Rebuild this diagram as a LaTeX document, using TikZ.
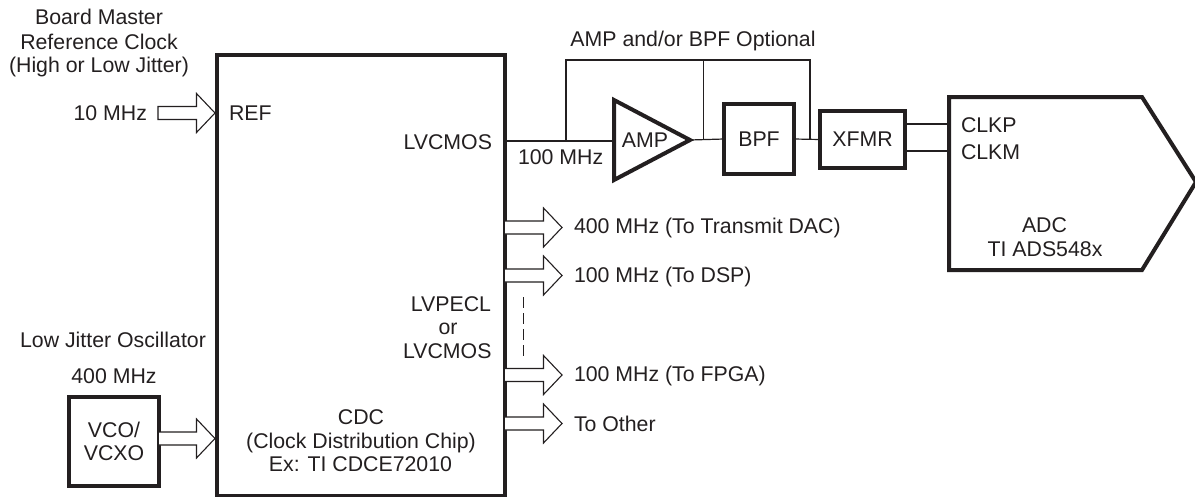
\documentclass[tikz,border=0pt]{standalone}
\usepackage{fontspec}
\setmainfont{Liberation Sans}
\usetikzlibrary{calc}
\definecolor{ink}{HTML}{231F20}
\newcommand{\lblfont}{\fontsize{21.3}{23.5}\selectfont}
\tikzset{
  thickbox/.style={draw=ink,line width=4pt,outer sep=0pt,inner sep=0pt,text=ink,font=\lblfont},
  wire/.style={draw=ink,line width=1.2pt},
  blockarrow/.style={draw=ink,line width=1.1pt,fill=white,line join=miter},
  lbl/.style={text=ink,inner sep=0pt,outer sep=0pt,font=\lblfont},
  lbll/.style={lbl,anchor=base west},
  lblr/.style={lbl,anchor=base east},
  lblc/.style={lbl,anchor=base},
}
\newcommand{\harrow}[2]{%
  \draw[blockarrow] ($(#1|-#2)+(0,-6.5)$) -- ($(#2)+(-18.5,-6.5)$) -- ($(#2)+(-18.5,-19.5)$) -- (#2)
    -- ($(#2)+(-18.5,19.5)$) -- ($(#2)+(-18.5,6.5)$) -- ($(#1|-#2)+(0,6.5)$);}
\begin{document}
\begin{tikzpicture}[x=1pt,y=-1pt]
\useasboundingbox (0,0) rectangle (1195,496);
% blocks
\node[thickbox,minimum width=288pt,minimum height=440.5pt] (main) at (361,275.25) {};
\node[thickbox,minimum width=90pt,minimum height=89pt,align=center] (vco) at (114,441.5) {VCO/\\VCXO};
\node[thickbox,minimum width=70pt,minimum height=70pt] (bpf) at (759,139) {BPF};
\node[thickbox,minimum width=85pt,minimum height=57pt] (xfmr) at (862.5,139.5) {XFMR};
% amplifier
\coordinate (ampT) at (614,100);
\coordinate (ampB) at (614,180);
\coordinate (ampO) at (690,140);
\coordinate (ampI) at (614,141);
\draw[draw=ink,line width=4pt,line join=miter] (ampT) -- (ampO) -- (ampB) -- cycle;
\node[lblc] (amplbl) at (645,147) {AMP};
% ADC
\coordinate (adcNW) at (949,97);
\coordinate (adcNE) at (1142,97);
\coordinate (adcTip) at (1196,182);
\coordinate (adcSE) at (1142,270);
\coordinate (adcSW) at (949,270);
\coordinate (adcP) at (949,124);
\coordinate (adcM) at (949,151);
\draw[draw=ink,line width=4pt,line join=miter] (adcNW) -- (adcNE) -- (adcTip) -- (adcSE) -- (adcSW) -- cycle;
% bypass wiring
\coordinate (by1) at (566,141);
\coordinate (by2) at (703.7,140);
\coordinate (by3) at (810,139.5);
\coordinate (topL) at (566,60);
\coordinate (topM) at (703.7,60);
\coordinate (topR) at (810,60);
\draw[wire] (main.east|-ampI) -- (ampI);
\draw[wire] (ampO) -- (bpf.west);
\draw[wire] (bpf.east) -- (xfmr.west);
\draw[wire] (by1) -- (topL) -- (topR) -- (by3);
\draw[wire] (topM) -- (by2);
\draw[wire] (xfmr.east|-adcP) -- (adcP);
\draw[wire] (xfmr.east|-adcM) -- (adcM);
% block arrows
\coordinate (tipRef) at (215,113);
\coordinate (tailRef) at (158,113);
\coordinate (tipVco) at (215,438.5);
\coordinate (tipA) at (562,227.5);
\coordinate (tipB) at (562,275.5);
\coordinate (tipC) at (562,375);
\coordinate (tipD) at (562,423.5);
\draw[blockarrow] ($(tailRef)+(0,-6.5)$) -- ($(tipRef)+(-18.5,-6.5)$) -- ($(tipRef)+(-18.5,-19.5)$) -- (tipRef) -- ($(tipRef)+(-18.5,19.5)$) -- ($(tipRef)+(-18.5,6.5)$) -- ($(tailRef)+(0,6.5)$) -- cycle;
\harrow{vco.east}{tipVco}
\harrow{main.east}{tipA}
\harrow{main.east}{tipB}
\harrow{main.east}{tipC}
\harrow{main.east}{tipD}
% dashed
\coordinate (dashT) at (523.7,297);
\coordinate (dashB) at (523.7,356);
\draw[draw=ink,line width=1.1pt,dash pattern=on 10.5pt off 5.5pt] (dashT) -- (dashB);
% labels
\node[lblc] (l1) at (99,24) {Board Master};
\node[lblc] (l2) at (99,49) {Reference Clock};
\node[lblc] (l3) at (99,72) {(High or Low Jitter)};
\node[lblr] (l4) at (147,120) {10 MHz};
\node[lbll] (l5) at (229,120) {REF};
\node[lblr] (l6) at (492,149) {LVCMOS};
\node[lbll] (l7) at (518,164) {100 MHz};
\node[lblc] (l8) at (693,46) {AMP and/or BPF Optional};
\node[lbll] (l9) at (961,132) {CLKP};
\node[lbll] (l10) at (961,159) {CLKM};
\node[lblc] (l11) at (1044.5,232) {ADC};
\node[lblc] (l12) at (1045,256) {TI ADS548x};
\node[lbll] (l13) at (574,233) {400 MHz (To Transmit DAC)};
\node[lbll] (l14) at (574,282) {100 MHz (To DSP)};
\node[lbll] (l15) at (574,381) {100 MHz (To FPGA)};
\node[lbll] (l16) at (574,431) {To Other};
\node[lblr] (l17) at (491,311) {LVPECL};
\node[lblc] (l18) at (448,334) {or};
\node[lblr] (l19) at (491.5,358) {LVCMOS};
\node[lblc] (l20) at (113,347) {Low Jitter Oscillator};
\node[lblc] (l21) at (114,383) {400 MHz};
\node[lblc] (l22) at (361,424) {CDC};
\node[lblc] (l23) at (361,448) {(Clock Distribution Chip)};
\node[lblc] (l24) at (360.5,471) {Ex: TI CDCE72010};
\end{tikzpicture}
\end{document}
